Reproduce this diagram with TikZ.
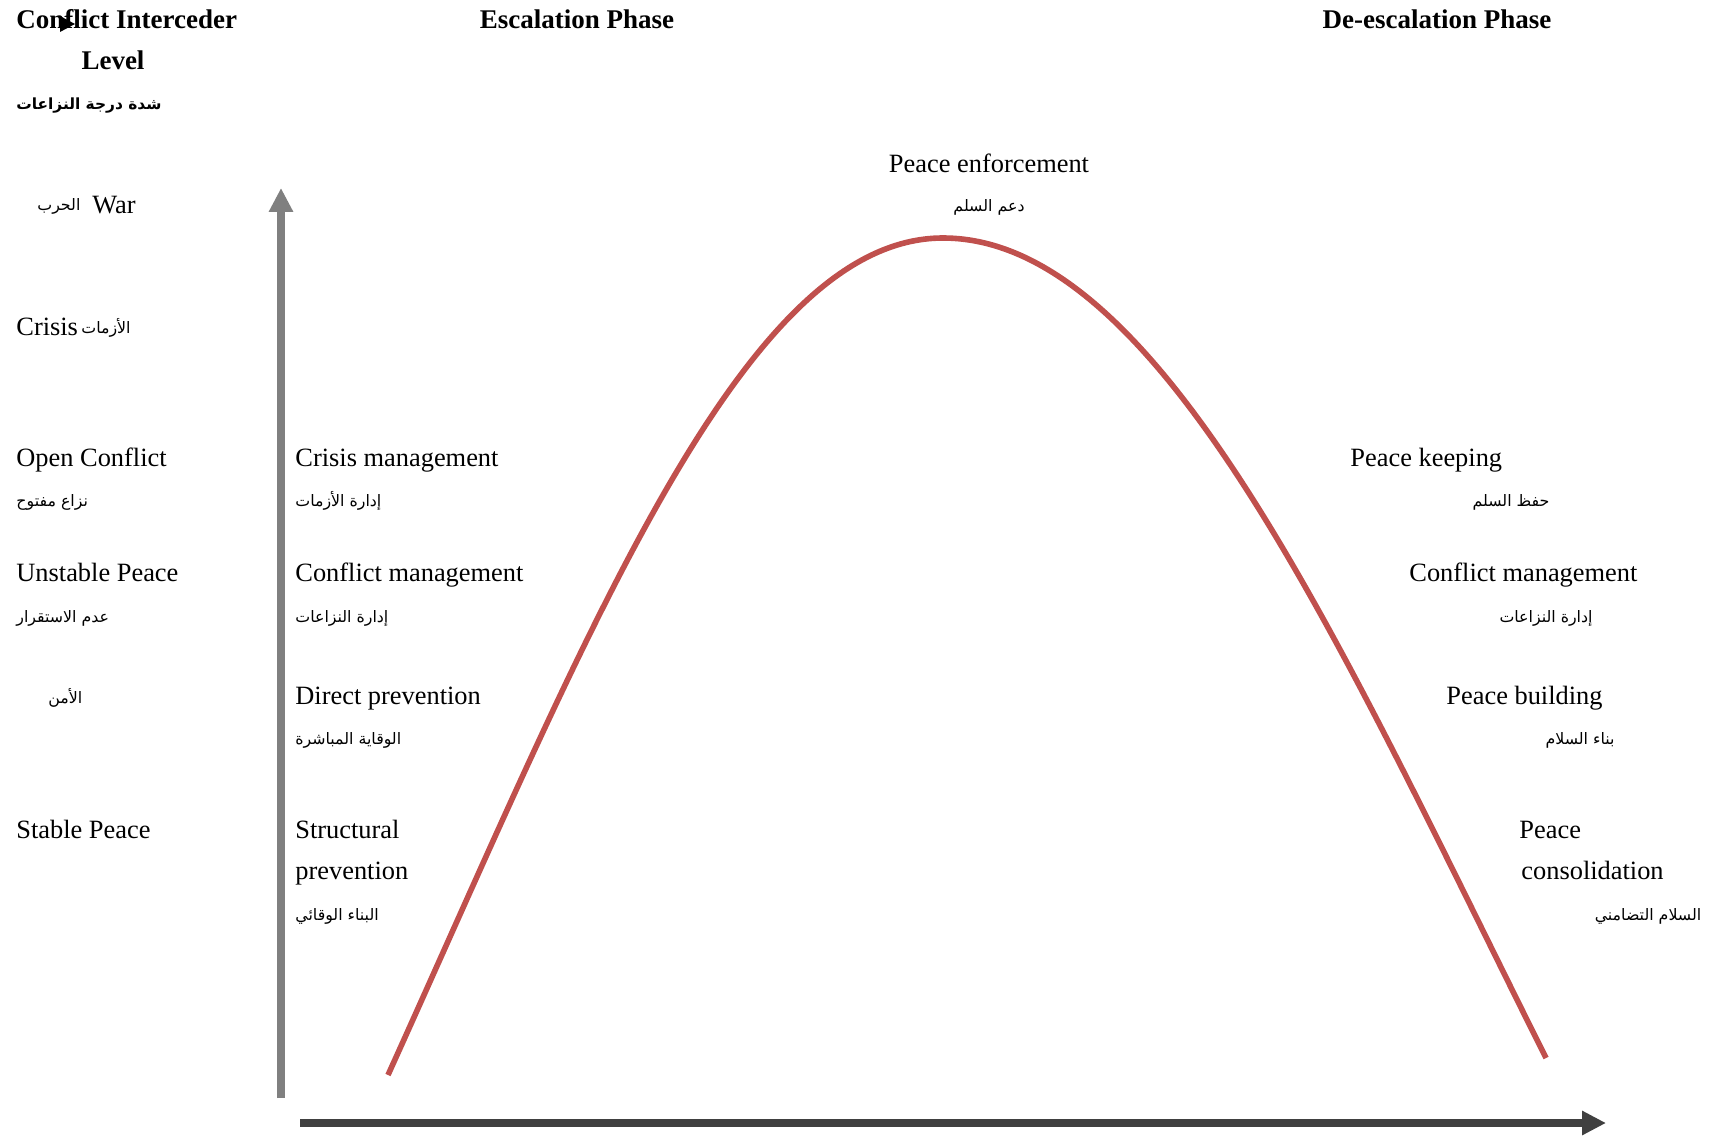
\documentclass[tikz,border=0pt]{standalone}
\usepackage{fontspec}
\setmainfont{Liberation Serif}
\newfontfamily\arabicfont[Script=Arabic]{DejaVu Sans}
\TeXXeTstate=1
\usetikzlibrary{arrows.meta}
\newcommand\artxt[1]{{\arabicfont\beginR #1\endR}}
\definecolor{curvered}{HTML}{C0504D}
\definecolor{axisgray}{HTML}{808080}
\definecolor{axisdark}{HTML}{404040}
\tikzset{
  lat/.style={font=\fontsize{13.2}{15}\selectfont, inner sep=0pt, anchor=west, text height=9.5pt, text depth=3pt, yshift=-1.5pt},
  latb/.style={font=\fontsize{13.5}{15}\bfseries\selectfont, inner sep=0pt, anchor=west, text height=9.5pt, text depth=3pt, yshift=-1.5pt},
  ar/.style={font=\arabicfont\fontsize{7.9}{10}\selectfont, inner sep=0pt, anchor=west, text height=7pt, text depth=3pt, yshift=-1.5pt},
  arb/.style={font=\arabicfont\fontsize{7.7}{10}\bfseries\selectfont, inner sep=0pt, anchor=west, text height=7pt, text depth=3pt, yshift=-1.5pt},
  curveline/.style={draw=curvered, line width=2.8pt},
}
\begin{document}
\begin{tikzpicture}[x=0.5pt,y=-0.5pt]
\useasboundingbox (0,0) rectangle (1713,1139);
\fill[white] (0,0) rectangle (1713,1139);

% header
\node[latb] (hdr1) at (16,19) {Conflict Interceder};
\node[latb, anchor=center] (hdr2) at (113,60) {Level};
\node[arb] (hdr3) at (16,103) {\artxt{شدة درجة النزاعات}};
\node[latb, anchor=center] (esc) at (577,19) {Escalation Phase};
\node[latb, anchor=center] (desc) at (1437,19) {De-escalation Phase};
\fill[black] (60,16) -- (75,24) -- (60,32) -- cycle;

% left column
\node[ar] (warar) at (37,204) {\artxt{الحرب}};
\node[lat] (war) at (92,204) {War};
\node[lat] (crisis) at (16,326) {Crisis};
\node[ar] (crisisar) at (81,326) {\artxt{الأزمات}};
\node[lat] (open) at (16,457) {Open Conflict};
\node[ar] (openar) at (16,499) {\artxt{نزاع مفتوح}};
\node[lat] (unst) at (16,572) {Unstable Peace};
\node[ar] (unstar) at (16,615) {\artxt{عدم الاستقرار}};
\node[ar] (amn) at (48,696) {\artxt{الأمن}};
\node[lat] (stable) at (16,829) {Stable Peace};

% middle column
\node[lat] (cm) at (295,457) {Crisis management};
\node[ar] (cmar) at (295,499) {\artxt{إدارة الأزمات}};
\node[lat] (cfm) at (295,572) {Conflict management};
\node[ar] (cfmar) at (295,615) {\artxt{إدارة النزاعات}};
\node[lat] (dp) at (295,695) {Direct prevention};
\node[ar] (dpar) at (295,737) {\artxt{الوقاية المباشرة}};
\node[lat] (sp1) at (295,829) {Structural};
\node[lat] (sp2) at (295,870) {prevention};
\node[ar] (spar) at (295,913) {\artxt{البناء الوقائي}};

% top centre
\node[lat, anchor=center] (pe) at (989,163) {Peace enforcement};
\node[ar, anchor=center] (pear) at (989,205) {\artxt{دعم السلم}};

% right column
\node[lat] (pk) at (1350,457) {Peace keeping};
\node[ar, anchor=center] (pkar) at (1511,499) {\artxt{حفظ السلم}};
\node[lat] (rcm) at (1409,572) {Conflict management};
\node[ar, anchor=center] (rcmar) at (1546,615) {\artxt{إدارة النزاعات}};
\node[lat] (pb) at (1446,695) {Peace building};
\node[ar, anchor=center] (pbar) at (1580,737) {\artxt{بناء السلام}};
\node[lat] (pc1) at (1519,829) {Peace};
\node[lat] (pc2) at (1521,870) {consolidation};
\node[ar, anchor=center] (pcar) at (1648,913) {\artxt{السلام التضامني}};

% axes
\coordinate (vbot) at (281,1098);
\coordinate (vtop) at (281,188);
\coordinate (hleft) at (300,1123);
\coordinate (hright) at (1606,1123);
\draw[axisgray, line width=4pt, -{Triangle[width=11.5pt,length=12pt]}] (vbot) -- (vtop);
\draw[axisdark, line width=4pt, -{Triangle[width=11.5pt,length=12pt]}] (hleft) -- (hright);

% curve
\coordinate (cstart) at (388,1075);
\coordinate (cpeak) at (943,238);
\coordinate (cend) at (1546,1058);
\draw[curveline] (cstart) .. controls (588,633) and (743,238) .. (cpeak)
  .. controls (1163,238) and (1346,658) .. (cend);
\end{tikzpicture}
\end{document}
